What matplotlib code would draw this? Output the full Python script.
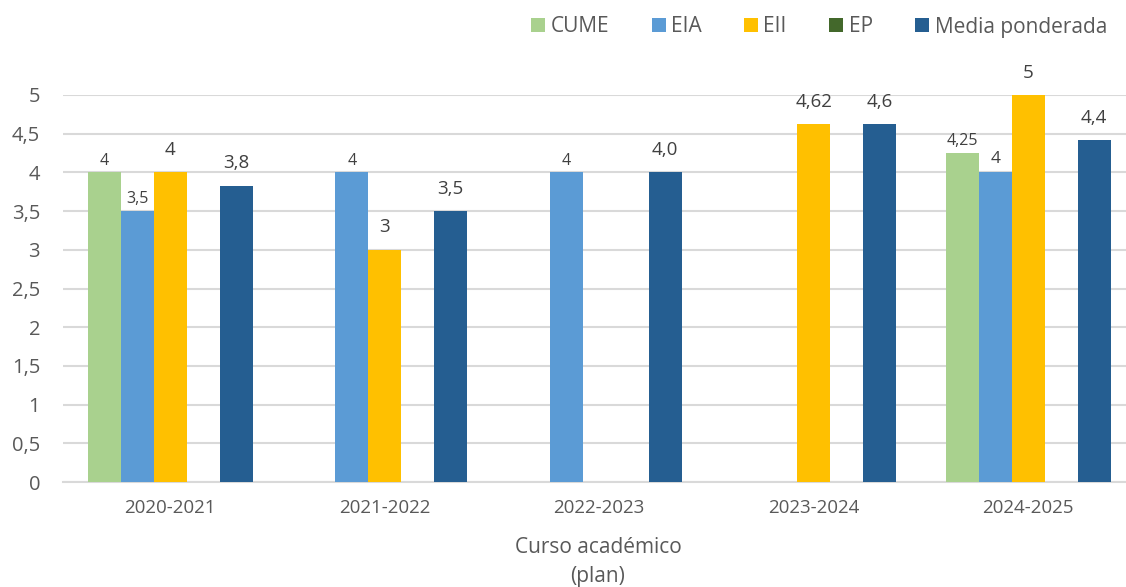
import matplotlib
matplotlib.use("Agg")
import matplotlib.pyplot as plt
import numpy as np

plt.rcParams['font.family'] = ['Open Sans', 'DejaVu Sans']

cursos = ["2020-2021", "2021-2022", "2022-2023", "2023-2024", "2024-2025"]
series = ["CUME", "EIA", "EII", "EP", "Media ponderada"]
cume = [4, None, None, None, 4.25]
eia = [3.5, 4, 4, None, 4]
eii = [4, 3, None, 4.62, 5]
ep = [None, None, None, None, None]
media = [3.83, 3.5, 4.0, 4.62, 4.42]

colores = ["#A9D18E", "#5B9BD5", "#FFC000", "#43682B", "#255E91"]
gris = "#595959"
gris_osc = "#404040"

W, H = 1126, 587
fig = plt.figure(figsize=(W / 100, H / 100), dpi=100)
# plot area in pixel coordinates
left, right, bottom, top = 63, 1135.5, 482, 95
ax = fig.add_axes([left / W, 1 - bottom / H, (right - left) / W, (bottom - top) / H])

n = len(series)
gap = 1.5
bw = 1 / (n + gap)
x = np.arange(len(cursos))

def fmt_general(v):
    s = f"{v:.2f}".rstrip("0").rstrip(".")
    return s.replace(".", ",")

def fmt_one(v):
    return f"{v:.1f}".replace(".", ",")

datos = [cume, eia, eii, ep, media]
# label size / offset per series (the 2024-2025 EIA label is drawn a bit larger)
tam = [11.5, 11.5, 13.5, 13.5, 13.5]
desp = [5.5, 5.5, 12.5, 12.5, 12.5]
for i, (nombre, vals) in enumerate(zip(series, datos)):
    pos = x - (n / 2) * bw + (i + 0.5) * bw
    alturas = [v if v is not None else 0 for v in vals]
    ax.bar(pos, alturas, width=bw, color=colores[i], label=nombre, zorder=3)
    for j, (p, v) in enumerate(zip(pos, vals)):
        if v is None:
            continue
        txt = fmt_one(v) if nombre == "Media ponderada" else fmt_general(v)
        size, off = tam[i], desp[i]
        if nombre == "EIA" and j == len(cursos) - 1:
            size, off = 12.5, 6.5
        ax.annotate(txt, (p, v), xytext=(0, off), textcoords="offset points",
                    ha="center", va="baseline", fontsize=size, color=gris_osc,
                    annotation_clip=False, zorder=4)

ax.set_xlim(-0.5, len(cursos) - 0.5)
ax.set_ylim(0, 5)
yt = np.arange(0, 5.01, 0.5)
ax.set_yticks(yt)
ax.set_yticklabels([fmt_general(v) for v in yt], fontsize=14.5, color=gris)
ax.set_xticks(x)
ax.set_xticklabels(cursos, fontsize=13.5, color=gris)
ax.tick_params(axis="both", length=0)
ax.tick_params(axis="y", pad=16.5)
ax.tick_params(axis="x", pad=12)
ax.grid(axis="y", color="#D9D9D9", linewidth=1.5, zorder=0)
ax.set_axisbelow(True)
for s in ["top", "right", "left"]:
    ax.spines[s].set_visible(False)
ax.spines["bottom"].set_color("#D9D9D9")
ax.spines["bottom"].set_linewidth(1.5)
ax.spines["bottom"].set_zorder(1)

fig.text(598 / W, 1 - 553 / H, "Curso académico", ha="center", va="baseline",
         fontsize=15, color=gris)
fig.text(598 / W, 1 - 582 / H, "(plan)", ha="center", va="baseline",
         fontsize=15, color=gris)

leg = fig.legend(loc="center right", bbox_to_anchor=(1107 / W, 1 - 27 / H), ncol=5,
                 frameon=False, fontsize=15, handlelength=0.67, handleheight=0.67,
                 handletextpad=0.25, columnspacing=2.05, borderpad=0, borderaxespad=0)
for t in leg.get_texts():
    t.set_color(gris)

fig.savefig("out.png", dpi=100)
